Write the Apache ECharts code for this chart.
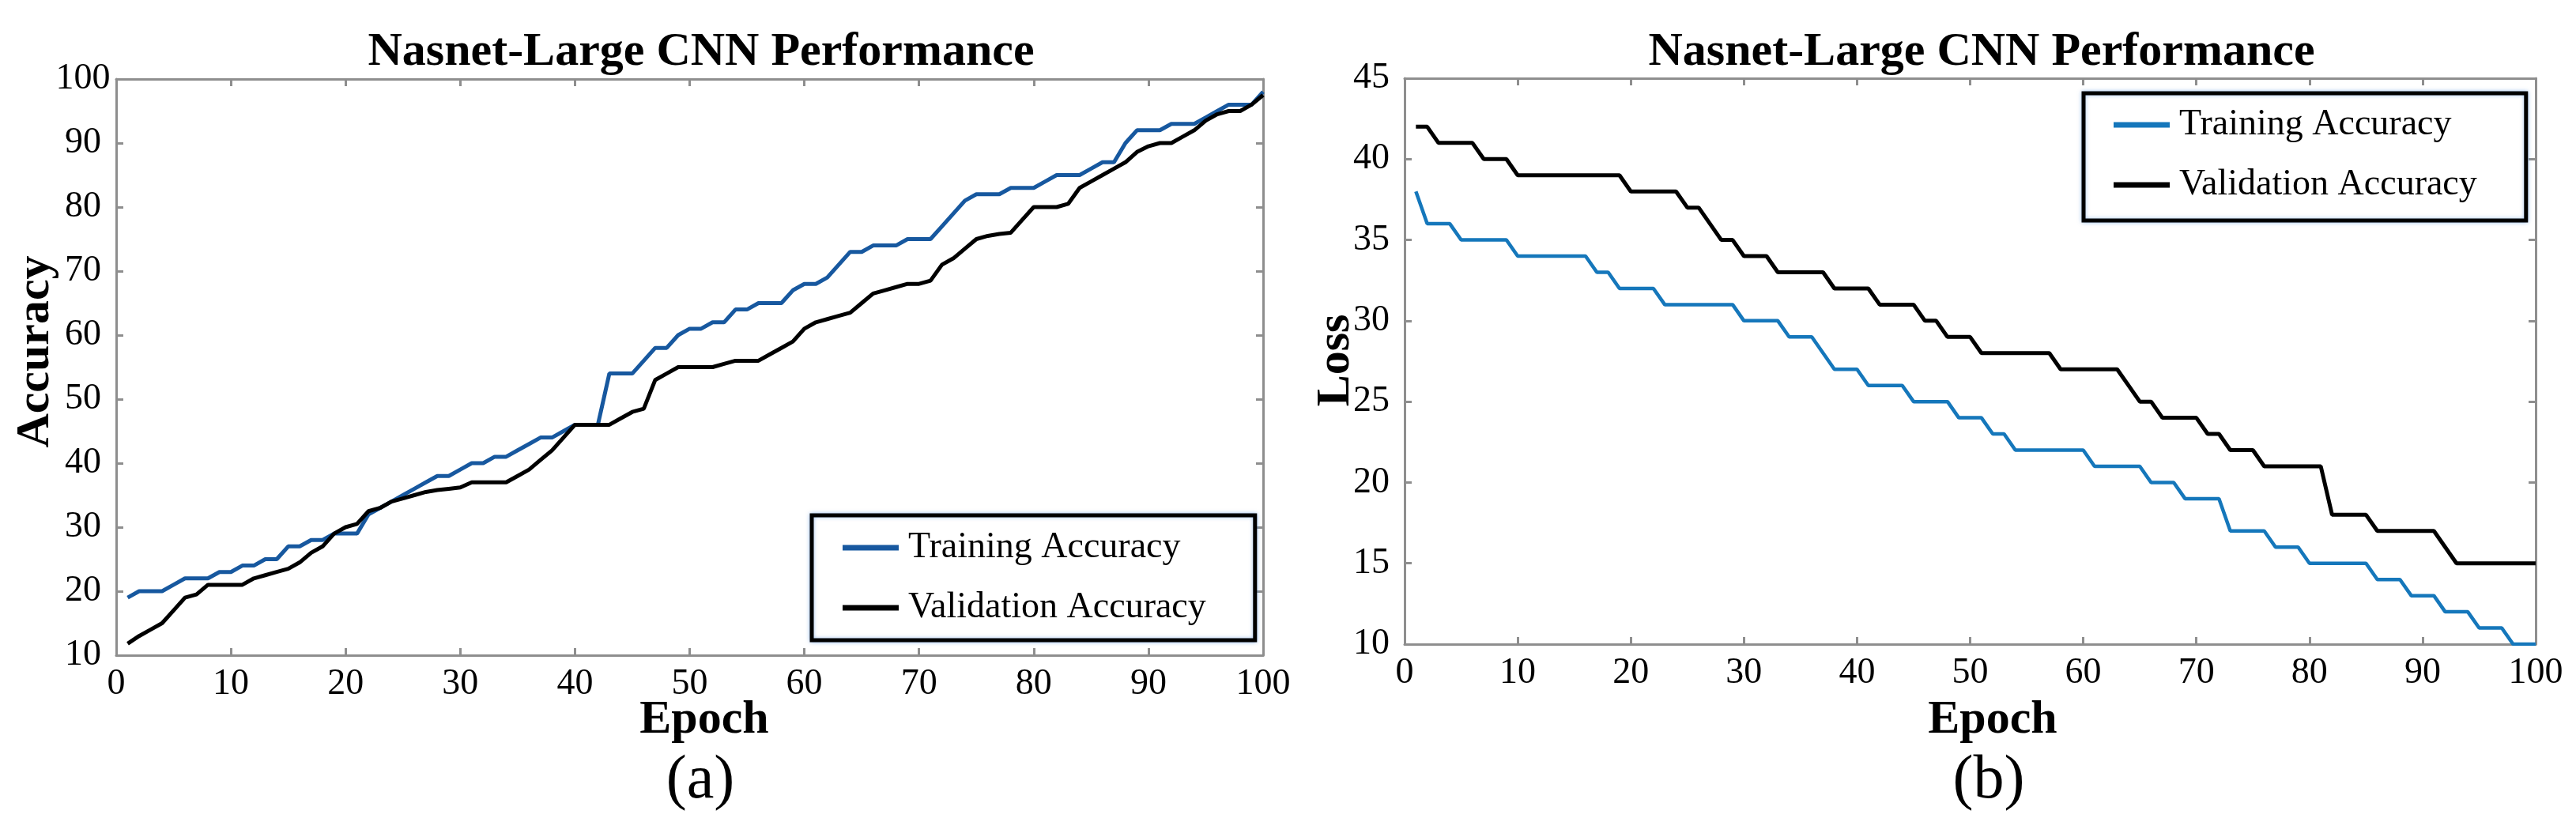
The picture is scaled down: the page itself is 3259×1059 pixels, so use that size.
<!DOCTYPE html>
<html><head><meta charset="utf-8">
<script src="https://cdn.jsdelivr.net/npm/echarts@6/dist/echarts.min.js"></script>
<style>html,body{margin:0;padding:0;background:#fff}#c{width:3259px;height:1059px}</style>
</head><body><div id="c"></div>
<script>
const epochs = [1,2,3,4,5,6,7,8,9,10,11,12,13,14,15,16,17,18,19,20,21,22,23,24,25,26,27,28,29,30,31,32,33,34,35,36,37,38,39,40,41,42,43,44,45,46,47,48,49,50,51,52,53,54,55,56,57,58,59,60,61,62,63,64,65,66,67,68,69,70,71,72,73,74,75,76,77,78,79,80,81,82,83,84,85,86,87,88,89,90,91,92,93,94,95,96,97,98,99,100];
const accTrain = [19,20,20,20,21,22,22,22,23,23, 24,24,25,25,27,27,28,28,29,29, 29,32,33,34,35,36,37,38,38,39, 40,40,41,41,42,43,44,44,45,46, 46,46,54,54,54,56,58,58,60,61, 61,62,62,64,64,65,65,65,67,68, 68,69,71,73,73,74,74,74,75,75, 75,77,79,81,82,82,82,83,83,83, 84,85,85,85,86,87,87,90,92,92, 92,93,93,93,94,95,96,96,96,98];
const accVal = [11.8,13,14,15,17,19,19.5,21,21,21, 21,22,22.5,23,23.5,24.5,26,27,29,30, 30.5,32.5,33,34,34.5,35,35.5,35.8,36,36.2, 37,37,37,37,38,39,40.5,42,44,46, 46,46,46,47,48,48.5,53,54,55,55, 55,55,55.5,56,56,56,57,58,59,61, 62,62.5,63,63.5,65,66.5,67,67.5,68,68, 68.5,71,72,73.5,75,75.5,75.8,76,78,80, 80,80,80.5,83,84,85,86,87,88.6,89.5, 90,90,91,92,93.5,94.5,95,95,96,97.5];
const lossTrain = [38,36,36,36,35,35,35,35,35,34, 34,34,34,34,34,34,33,33,32,32, 32,32,31,31,31,31,31,31,31,30, 30,30,30,29,29,29,28,27,27,27, 26,26,26,26,25,25,25,25,24,24, 24,23,23,22,22,22,22,22,22,22, 21,21,21,21,21,20,20,20,19,19, 19,19,17,17,17,17,16,16,16,15, 15,15,15,15,15,14,14,14,13,13, 13,12,12,12,11,11,11,10,10,10];
const lossVal = [42,42,41,41,41,41,40,40,40,39, 39,39,39,39,39,39,39,39,39,38, 38,38,38,38,37,37,36,35,35,34, 34,34,33,33,33,33,33,32,32,32, 32,31,31,31,31,30,30,29,29,29, 28,28,28,28,28,28,28,27,27,27, 27,27,27,26,25,25,24,24,24,24, 23,23,22,22,22,21,21,21,21,21, 21,18,18,18,18,17,17,17,17,17, 17,16,15,15,15,15,15,15,15,15];
const seriesNames = ['Training Accuracy', 'Validation Accuracy'];
const titleText = 'Nasnet-Large CNN Performance';

const SERIF = '"Liberation Serif", "Times New Roman", serif';
const AXIS_GRAY = '#8e8e8e';
const BLUE_A = '#17589f';
const BLUE_B = '#1577bb';

function pairs(vals) { return epochs.map((e, i) => [e, vals[i]]); }

function xAxes(gi) {
  const common = {
    type: 'value', gridIndex: gi, min: 0, max: 100, interval: 10,
    splitLine: { show: false },
    axisLine: { show: true, onZero: false, lineStyle: { color: AXIS_GRAY, width: 3 } },
    axisTick: { show: true, inside: true, length: 9, lineStyle: { color: AXIS_GRAY, width: 3 } }
  };
  return [
    Object.assign({}, common, { position: 'bottom',
      axisLabel: { show: true, margin: 14, fontSize: 46, fontFamily: SERIF, color: '#000' } }),
    Object.assign({}, common, { position: 'top', axisLabel: { show: false } })
  ];
}
function yAxes(gi, min, max, interval) {
  const common = {
    type: 'value', gridIndex: gi, min: min, max: max, interval: interval,
    splitLine: { show: false },
    axisLine: { show: true, onZero: false, lineStyle: { color: AXIS_GRAY, width: 3 } },
    axisTick: { show: true, inside: true, length: 9, lineStyle: { color: AXIS_GRAY, width: 3 } }
  };
  return [
    Object.assign({}, common, { position: 'left',
      axisLabel: { show: true, margin: 42, align: 'center', fontSize: 46, fontFamily: SERIF, color: '#000' } }),
    Object.assign({}, common, { position: 'right', axisLabel: { show: false } })
  ];
}

function legendCfg(left, top, padding, blue) {
  return {
    orient: 'vertical', left: left, top: top, padding: padding, itemGap: 30,
    itemWidth: 71, itemHeight: 7, icon: 'rect', selectedMode: false,
    borderColor: '#000', borderWidth: 5, backgroundColor: '#fff',
    shadowColor: 'rgba(90,150,230,0.55)', shadowBlur: 5,
    textStyle: { fontSize: 46, lineHeight: 46, fontFamily: SERIF, color: '#000', padding: [0, 0, 0, 7] },
    data: [
      { name: seriesNames[0], itemStyle: { color: blue } },
      { name: seriesNames[1], itemStyle: { color: '#000' } }
    ]
  };
}

function lineSeries(name, xi, yi, data, color, width) {
  return {
    type: 'line', name: name, xAxisIndex: xi, yAxisIndex: yi, data: data,
    showSymbol: false, symbol: 'none', smooth: false, animation: false,
    lineStyle: { color: color, width: width }, itemStyle: { color: color }, z: 3
  };
}

function txt(text, x, y, size, weight, rot) {
  return { type: 'text', x: x, y: y, rotation: rot || 0, z: 10,
    style: { text: text, fontSize: size, fontWeight: weight, fontFamily: SERIF, fill: '#000',
      align: 'center', verticalAlign: 'middle' } };
}

const chart = echarts.init(document.getElementById('c'), null, { renderer: 'canvas' });
chart.setOption({
  animation: false,
  backgroundColor: '#fff',
  title: [
    { text: titleText, left: 887, top: 36, textAlign: 'center', padding: 0,
      textStyle: { fontSize: 60, fontWeight: 'bold', fontFamily: SERIF, color: '#000', lineHeight: 60 } },
    { text: titleText, left: 2507, top: 36, textAlign: 'center', padding: 0,
      textStyle: { fontSize: 60, fontWeight: 'bold', fontFamily: SERIF, color: '#000', lineHeight: 60 } }
  ],
  grid: [
    { left: 147, top: 100, width: 1451, height: 729, outerBoundsMode: 'none', containLabel: false },
    { left: 1777, top: 99, width: 1431, height: 716, outerBoundsMode: 'none', containLabel: false }
  ],
  xAxis: [].concat(xAxes(0), xAxes(1)),
  yAxis: [].concat(yAxes(0, 10, 100, 10), yAxes(1, 10, 45, 5)),
  legend: [
    legendCfg(1027, 652, [18, 62, 18, 39], BLUE_A),
    legendCfg(2636, 118, [17, 62, 22, 38], BLUE_B)
  ],
  graphic: [
    txt('Accuracy', 45, 445, 60, 'bold', Math.PI / 2),
    txt('Loss', 1690, 456, 60, 'bold', Math.PI / 2),
    txt('Epoch', 891, 911, 60, 'bold'),
    txt('Epoch', 2521, 911, 60, 'bold'),
    txt('(a)', 886, 989, 78, 'normal'),
    txt('(b)', 2516, 989, 78, 'normal')
  ],
  series: [
    lineSeries(seriesNames[0], 0, 0, pairs(accTrain), BLUE_A, 5),
    lineSeries(seriesNames[1], 0, 0, pairs(accVal), '#000', 5),
    lineSeries(seriesNames[0], 2, 2, pairs(lossTrain), BLUE_B, 4.5),
    lineSeries(seriesNames[1], 2, 2, pairs(lossVal), '#000', 5)
  ]
});
</script>
</body></html>
